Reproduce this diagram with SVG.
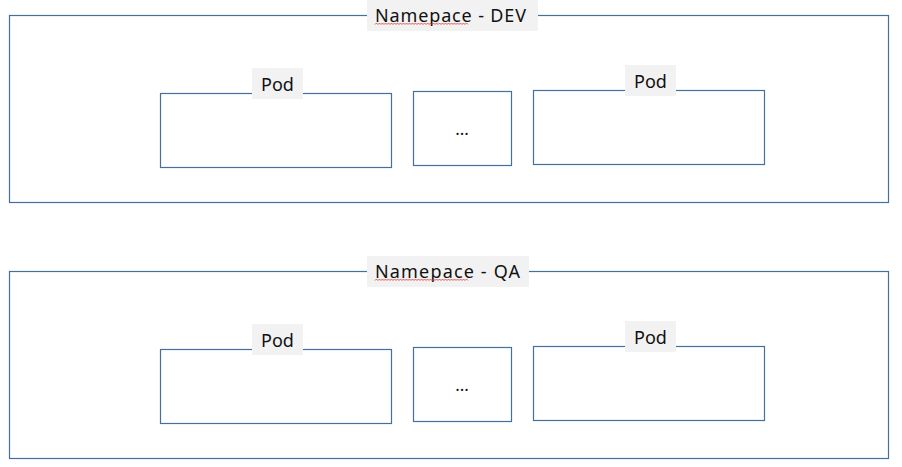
<svg xmlns="http://www.w3.org/2000/svg" width="902" height="467" viewBox="0 0 902 467">
<style>
.box{fill:#FFFFFF;stroke:#41719C;stroke-width:1.2}
.lbl{fill:#F2F2F2}
.t{font-family:"Noto Sans","Liberation Sans",sans-serif;font-size:18px;fill:#111111}
.ns{font-family:"Noto Sans","Liberation Sans",sans-serif;font-size:18px;fill:#111111}
.dots{font-family:"Noto Sans","Liberation Sans",sans-serif;font-size:17px;fill:#111111;text-anchor:middle}
.sq{fill:none;stroke:#E03030;stroke-width:0.8}
</style>
<rect width="902" height="467" fill="#FFFFFF"/>
<g id="ns-dev">
<rect class="box" x="9.5" y="15.5" width="879" height="187"/>
<rect class="lbl" x="367" y="0" width="171" height="31"/>
<text class="ns" x="375" y="21.5" textLength="151" lengthAdjust="spacing">Namepace - DEV</text>
<path class="sq" d="M375,24.5 l1.5,-1.5 l1.5,1.5 l1.5,-1.5 l1.5,1.5 l1.5,-1.5 l1.5,1.5 l1.5,-1.5 l1.5,1.5 l1.5,-1.5 l1.5,1.5 l1.5,-1.5 l1.5,1.5 l1.5,-1.5 l1.5,1.5 l1.5,-1.5 l1.5,1.5 l1.5,-1.5 l1.5,1.5 l1.5,-1.5 l1.5,1.5 l1.5,-1.5 l1.5,1.5 l1.5,-1.5 l1.5,1.5 l1.5,-1.5 l1.5,1.5 l1.5,-1.5 l1.5,1.5 l1.5,-1.5 l1.5,1.5 l1.5,-1.5 l1.5,1.5 l1.5,-1.5 l1.5,1.5 l1.5,-1.5 l1.5,1.5 l1.5,-1.5 l1.5,1.5 l1.5,-1.5 l1.5,1.5 l1.5,-1.5 l1.5,1.5 l1.5,-1.5 l1.5,1.5 l1.5,-1.5 l1.5,1.5 l1.5,-1.5 l1.5,1.5 l1.5,-1.5 l1.5,1.5 l1.5,-1.5 l1.5,1.5 l1.5,-1.5 l1.5,1.5 l1.5,-1.5 l1.5,1.5 l1.5,-1.5 l1.5,1.5 l1.5,-1.5 l1.5,1.5 l1.5,-1.5 l1.5,1.5"/>
</g>
<g id="pod-dev-1">
<rect class="box" x="160.5" y="93.5" width="231" height="74"/>
<rect class="lbl" x="252" y="68" width="51" height="31"/>
<text class="t" x="277.5" y="91" text-anchor="middle">Pod</text>
</g>
<g id="more-dev">
<rect class="box" x="413.5" y="91.5" width="98" height="74"/>
<text class="dots" x="462" y="135">...</text>
</g>
<g id="pod-dev-2">
<rect class="box" x="533.5" y="90.5" width="231" height="74"/>
<rect class="lbl" x="625" y="65" width="51" height="31"/>
<text class="t" x="650.5" y="88" text-anchor="middle">Pod</text>
</g>
<g id="ns-qa">
<rect class="box" x="9.5" y="271.5" width="879" height="187"/>
<rect class="lbl" x="367" y="256" width="162" height="31"/>
<text class="ns" x="375" y="277.5" textLength="145" lengthAdjust="spacing">Namepace - QA</text>
<path class="sq" d="M375,280.5 l1.5,-1.5 l1.5,1.5 l1.5,-1.5 l1.5,1.5 l1.5,-1.5 l1.5,1.5 l1.5,-1.5 l1.5,1.5 l1.5,-1.5 l1.5,1.5 l1.5,-1.5 l1.5,1.5 l1.5,-1.5 l1.5,1.5 l1.5,-1.5 l1.5,1.5 l1.5,-1.5 l1.5,1.5 l1.5,-1.5 l1.5,1.5 l1.5,-1.5 l1.5,1.5 l1.5,-1.5 l1.5,1.5 l1.5,-1.5 l1.5,1.5 l1.5,-1.5 l1.5,1.5 l1.5,-1.5 l1.5,1.5 l1.5,-1.5 l1.5,1.5 l1.5,-1.5 l1.5,1.5 l1.5,-1.5 l1.5,1.5 l1.5,-1.5 l1.5,1.5 l1.5,-1.5 l1.5,1.5 l1.5,-1.5 l1.5,1.5 l1.5,-1.5 l1.5,1.5 l1.5,-1.5 l1.5,1.5 l1.5,-1.5 l1.5,1.5 l1.5,-1.5 l1.5,1.5 l1.5,-1.5 l1.5,1.5 l1.5,-1.5 l1.5,1.5 l1.5,-1.5 l1.5,1.5 l1.5,-1.5 l1.5,1.5 l1.5,-1.5 l1.5,1.5 l1.5,-1.5 l1.5,1.5"/>
</g>
<g id="pod-qa-1">
<rect class="box" x="160.5" y="349.5" width="231" height="74"/>
<rect class="lbl" x="252" y="324" width="51" height="31"/>
<text class="t" x="277.5" y="347" text-anchor="middle">Pod</text>
</g>
<g id="more-qa">
<rect class="box" x="413.5" y="347.5" width="98" height="74"/>
<text class="dots" x="462" y="391">...</text>
</g>
<g id="pod-qa-2">
<rect class="box" x="533.5" y="346.5" width="231" height="74"/>
<rect class="lbl" x="625" y="321" width="51" height="31"/>
<text class="t" x="650.5" y="344" text-anchor="middle">Pod</text>
</g>
<g id="connectors"/>
</svg>
